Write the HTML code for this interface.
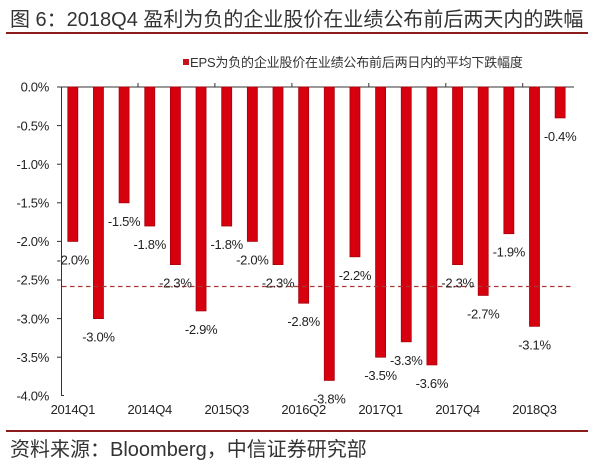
<!DOCTYPE html>
<html><head><meta charset="utf-8"><style>
html,body{margin:0;padding:0;background:#fff;}
svg{display:block;}
text{font-family:"Liberation Sans","Noto Sans CJK SC",sans-serif;}
</style></head><body>
<svg width="600" height="467" viewBox="0 0 600 467" xmlns="http://www.w3.org/2000/svg">
<text x="10" y="26" font-size="20" fill="#333">图 6：2018Q4 盈利为负的企业股价在业绩公布前后两天内的跌幅</text>
<line x1="6" y1="33" x2="588" y2="33" stroke="#8b1c1c" stroke-width="2"/>
<rect x="183" y="59" width="6" height="6" fill="#c8101c"/>
<text x="190" y="67" font-size="13" fill="#333" letter-spacing="-0.2">EPS为负的企业股价在业绩公布前后两日内的平均下跌幅度</text>
<g font-size="13" fill="#222" text-anchor="end" letter-spacing="-0.3">
<text x="49" y="91.7">0.0%</text>
<text x="49" y="130.3">-0.5%</text>
<text x="49" y="168.9">-1.0%</text>
<text x="49" y="207.5">-1.5%</text>
<text x="49" y="246.1">-2.0%</text>
<text x="49" y="284.7">-2.5%</text>
<text x="49" y="323.3">-3.0%</text>
<text x="49" y="361.9">-3.5%</text>
<text x="49" y="400.5">-4.0%</text>
</g>
<g stroke="#333" stroke-width="1">
<line x1="61.5" y1="87" x2="61.5" y2="396"/>
<line x1="57" y1="87" x2="61.5" y2="87"/>
<line x1="57" y1="125.6" x2="61.5" y2="125.6"/>
<line x1="57" y1="164.2" x2="61.5" y2="164.2"/>
<line x1="57" y1="202.8" x2="61.5" y2="202.8"/>
<line x1="57" y1="241.4" x2="61.5" y2="241.4"/>
<line x1="57" y1="280" x2="61.5" y2="280"/>
<line x1="57" y1="318.6" x2="61.5" y2="318.6"/>
<line x1="57" y1="357.2" x2="61.5" y2="357.2"/>
<line x1="61.5" y1="395.5" x2="64" y2="395.5"/>
<line x1="61" y1="87" x2="574" y2="87"/>
<line x1="138" y1="83" x2="138" y2="87"/>
<line x1="214.9" y1="83" x2="214.9" y2="87"/>
<line x1="291.9" y1="83" x2="291.9" y2="87"/>
<line x1="368.8" y1="83" x2="368.8" y2="87"/>
<line x1="445.8" y1="83" x2="445.8" y2="87"/>
<line x1="522.7" y1="83" x2="522.7" y2="87"/>
</g>
<g fill="#d7000f" stroke="#a8000a" stroke-width="0.8">
<rect x="67.8" y="87" width="10" height="154.4"/>
<rect x="93.45" y="87" width="10" height="231.6"/>
<rect x="119.1" y="87" width="10" height="115.8"/>
<rect x="144.75" y="87" width="10" height="139"/>
<rect x="170.4" y="87" width="10" height="177.6"/>
<rect x="196.05" y="87" width="10" height="223.9"/>
<rect x="221.7" y="87" width="10" height="139"/>
<rect x="247.35" y="87" width="10" height="154.4"/>
<rect x="273" y="87" width="10" height="177.6"/>
<rect x="298.65" y="87" width="10" height="216.2"/>
<rect x="324.3" y="87" width="10" height="293.4"/>
<rect x="349.95" y="87" width="10" height="169.8"/>
<rect x="375.6" y="87" width="10" height="270.2"/>
<rect x="401.25" y="87" width="10" height="254.8"/>
<rect x="426.9" y="87" width="10" height="277.9"/>
<rect x="452.55" y="87" width="10" height="177.6"/>
<rect x="478.2" y="87" width="10" height="208.4"/>
<rect x="503.85" y="87" width="10" height="146.7"/>
<rect x="529.5" y="87" width="10" height="239.3"/>
<rect x="555.15" y="87" width="10" height="30.9"/>
</g>
<line x1="62" y1="286.5" x2="573" y2="286.5" stroke="#a83a34" stroke-width="1.2" stroke-dasharray="4.5,3.5"/>
<g font-size="13" fill="#222" text-anchor="middle" letter-spacing="-0.3">
<text x="72.8" y="264.4">-2.0%</text>
<text x="98.45" y="341.6">-3.0%</text>
<text x="124.1" y="225.8">-1.5%</text>
<text x="149.75" y="249">-1.8%</text>
<text x="175.4" y="287.6">-2.3%</text>
<text x="201.05" y="333.9">-2.9%</text>
<text x="226.7" y="249">-1.8%</text>
<text x="252.35" y="264.4">-2.0%</text>
<text x="278" y="287.6">-2.3%</text>
<text x="303.65" y="326.2">-2.8%</text>
<text x="329.3" y="403.4">-3.8%</text>
<text x="354.95" y="279.8">-2.2%</text>
<text x="380.6" y="380.2">-3.5%</text>
<text x="406.25" y="364.8">-3.3%</text>
<text x="431.9" y="387.9">-3.6%</text>
<text x="457.55" y="287.6">-2.3%</text>
<text x="483.2" y="318.4">-2.7%</text>
<text x="508.85" y="256.7">-1.9%</text>
<text x="534.5" y="349.3">-3.1%</text>
<text x="560.15" y="140.9">-0.4%</text>
</g>
<g font-size="13" fill="#222" text-anchor="middle" letter-spacing="-0.3">
<text x="72.8" y="414">2014Q1</text>
<text x="149.75" y="414">2014Q4</text>
<text x="226.7" y="414">2015Q3</text>
<text x="303.65" y="414">2016Q2</text>
<text x="380.6" y="414">2017Q1</text>
<text x="457.55" y="414">2017Q4</text>
<text x="534.5" y="414">2018Q3</text>
</g>
<line x1="6" y1="431" x2="588" y2="431" stroke="#8b1c1c" stroke-width="2"/>
<text x="10" y="456" font-size="20" fill="#333">资料来源：Bloomberg，中信证券研究部</text>
</svg>
</body></html>
